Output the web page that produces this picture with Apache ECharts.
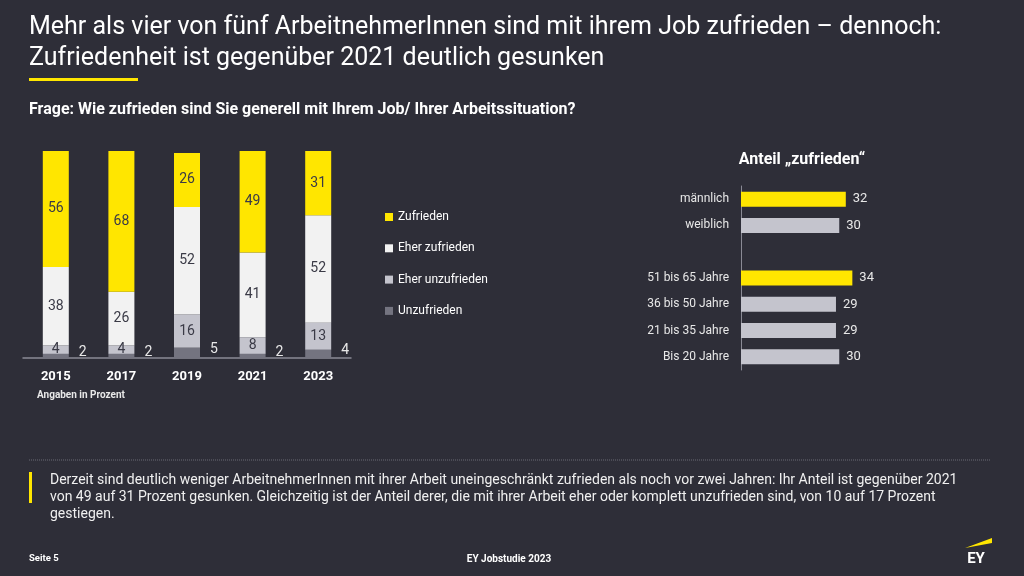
<!DOCTYPE html>
<html style="height: 100%">
<head>
<meta charset="utf-8">
<script src="https://cdn.jsdelivr.net/npm/echarts@6/dist/echarts.min.js"></script>
</head>
<body style="height: 100%; margin: 0; background: #2e2e38">
<div id="chart" style="width: 1024px; height: 576px"></div>
<script>
// Zufriedenheit nach Jahr (Angaben in Prozent)
var years = ['2015', '2017', '2019', '2021', '2023'];
var zufrieden = [56, 68, 26, 49, 31];
var eherZufrieden = [38, 26, 52, 41, 52];
var eherUnzufrieden = [4, 4, 16, 8, 13];
var unzufrieden = [2, 2, 5, 2, 4];

// Anteil "zufrieden" nach Gruppe (leere Zeile = Abstand)
var gruppen = ['männlich', 'weiblich', '', '51 bis 65 Jahre', '36 bis 50 Jahre', '21 bis 35 Jahre', 'Bis 20 Jahre'];
var anteilZufrieden = [32, 30, null, 34, 29, 29, 30];
var hervorgehoben = ['männlich', '51 bis 65 Jahre'];

var FONT = 'Roboto';
var YELLOW = '#ffe600';
var names = ['Zufrieden', 'Eher zufrieden', 'Eher unzufrieden', 'Unzufrieden'];
var colors = [YELLOW, '#f2f2f2', '#c4c4cd', '#747480'];
var values = [zufrieden, eherZufrieden, eherUnzufrieden, unzufrieden];

// gestapelt von unten: Unzufrieden zuerst
var series = [];
for (var i = names.length - 1; i >= 0; i--) {
    var last = i == names.length - 1;
    series.push({
        name: names[i],
        type: 'bar',
        stack: 'jahr',
        barWidth: 26,
        xAxisIndex: 0,
        yAxisIndex: 0,
        data: values[i],
        itemStyle: { color: colors[i] },
        label: last ? {
            show: true, position: 'right', distance: 10, offset: [0, -3],
            color: '#e8e8e8', fontSize: 14, fontFamily: FONT
        } : {
            show: true, position: 'inside',
            color: '#3a3a46', fontSize: 14, fontFamily: FONT
        }
    });
}

series.push({
    name: 'Anteil',
    type: 'bar',
    xAxisIndex: 1,
    yAxisIndex: 1,
    barWidth: 15,
    data: anteilZufrieden.map(function (v, k) {
        return {
            value: v,
            itemStyle: { color: hervorgehoben.indexOf(gruppen[k]) >= 0 ? YELLOW : '#c4c4cd' }
        };
    }),
    label: {
        show: true, position: 'right', distance: 7,
        color: '#e8e8e8', fontSize: 13, fontFamily: FONT
    }
});

function txt(text, x, y, font, fill, align) {
    return {
        type: 'text', x: x, y: y,
        style: { text: text, font: font, fill: fill || '#fff', textAlign: align || 'left', textVerticalAlign: 'middle' }
    };
}

var chart = echarts.init(document.getElementById('chart'));
chart.setOption({
    backgroundColor: '#2e2e38',
    animation: false,
    textStyle: { fontFamily: FONT },
    grid: [
        { left: 23, top: 151, width: 328, height: 207 },
        { left: 741, top: 186, width: 131, height: 184 }
    ],
    xAxis: [
        {
            type: 'category', gridIndex: 0, data: years,
            axisLine: { lineStyle: { color: '#8a8a95', width: 1.5 } },
            axisTick: { show: false },
            axisLabel: { color: '#fff', fontSize: 13, fontWeight: 'bold', margin: 12, fontFamily: FONT }
        },
        { type: 'value', gridIndex: 1, min: 0, max: 40, show: false }
    ],
    yAxis: [
        { type: 'value', gridIndex: 0, min: 0, max: 100, show: false },
        {
            type: 'category', gridIndex: 1, data: gruppen, inverse: true,
            axisLine: { lineStyle: { color: '#8a8a95' } },
            axisTick: { show: false },
            axisLabel: { color: '#e8e8e8', fontSize: 12, margin: 12, fontFamily: FONT }
        }
    ],
    legend: {
        data: names,
        orient: 'vertical',
        left: 380,
        top: 206,
        icon: 'rect',
        itemWidth: 8,
        itemHeight: 8,
        itemGap: 19.3,
        selectedMode: false,
        textStyle: { color: '#fff', fontSize: 12, fontFamily: FONT }
    },
    series: series,
    graphic: [
        txt('Mehr als vier von fünf ArbeitnehmerInnen sind mit ihrem Job zufrieden – dennoch:', 29, 28, '25px ' + FONT),
        txt('Zufriedenheit ist gegenüber 2021 deutlich gesunken', 29, 59, '25px ' + FONT),
        { type: 'rect', shape: { x: 29, y: 78, width: 109, height: 3 }, style: { fill: YELLOW } },
        txt('Frage: Wie zufrieden sind Sie generell mit Ihrem Job/ Ihrer Arbeitssituation?', 29, 110, 'bold 16px ' + FONT),
        txt('Angaben in Prozent', 37, 395, 'bold 10px ' + FONT, '#e8e8e8'),
        txt('Anteil „zufrieden“', 802, 160, 'bold 16px ' + FONT, '#fff', 'center'),
        { type: 'line', shape: { x1: 29, y1: 460, x2: 990, y2: 460 }, style: { stroke: '#6a6a75', lineWidth: 1, lineDash: [1, 1] } },
        { type: 'rect', shape: { x: 29, y: 472, width: 3, height: 31 }, style: { fill: YELLOW } },
        txt('Derzeit sind deutlich weniger ArbeitnehmerInnen mit ihrer Arbeit uneingeschränkt zufrieden als noch vor zwei Jahren: Ihr Anteil ist gegenüber 2021', 50, 480, '14px ' + FONT, '#f0f0f0'),
        txt('von 49 auf 31 Prozent gesunken. Gleichzeitig ist der Anteil derer, die mit ihrer Arbeit eher oder komplett unzufrieden sind, von 10 auf 17 Prozent', 50, 497, '14px ' + FONT, '#f0f0f0'),
        txt('gestiegen.', 50, 514, '14px ' + FONT, '#f0f0f0'),
        txt('Seite 5', 29, 559, 'bold 9.5px ' + FONT, '#fff'),
        txt('EY Jobstudie 2023', 509, 559, 'bold 10px ' + FONT, '#fff', 'center'),
        { type: 'polygon', shape: { points: [[965, 548], [992, 538], [992, 543]] }, style: { fill: YELLOW } },
        txt('EY', 976, 559, 'bold 15px ' + FONT, '#fff', 'center')
    ]
});
</script>
</body>
</html>
